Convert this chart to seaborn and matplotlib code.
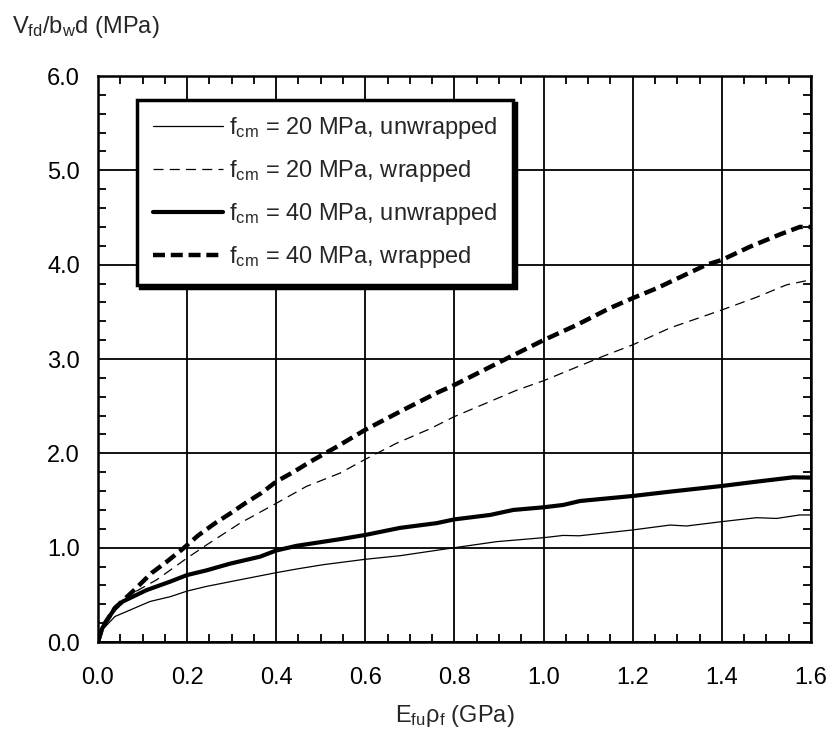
import numpy as np
import pandas as pd
import seaborn as sns
from matplotlib import pyplot as plt
from matplotlib.ticker import MultipleLocator

# Значения
x_20u = [0.0, 0.01, 0.038, 0.117, 0.162, 0.2, 0.244, 0.319, 0.4, 0.446, 0.506, 0.6, 0.678, 0.8,
         0.895, 1.0, 1.044, 1.08, 1.2, 1.284, 1.321, 1.4, 1.478, 1.523, 1.575, 1.6]
y_20u = [0.0, 0.13, 0.27, 0.43, 0.48, 0.54, 0.59, 0.66, 0.735, 0.774, 0.82, 0.877, 0.915, 1.0,
         1.064, 1.106, 1.13, 1.126, 1.188, 1.24, 1.23, 1.276, 1.318, 1.31, 1.347, 1.347]

x_20w = [0.0, 0.01, 0.038, 0.079, 0.132, 0.2, 0.244, 0.319, 0.4, 0.468, 0.543, 0.6, 0.67, 0.745,
         0.8, 0.88, 0.94, 1.0, 1.067, 1.134, 1.2, 1.284, 1.4, 1.478, 1.545, 1.6]
y_20w = [0.0, 0.15, 0.33, 0.52, 0.66, 0.89, 1.03, 1.26, 1.47, 1.65, 1.79, 1.937, 2.107, 2.26,
         2.39, 2.55, 2.67, 2.77, 2.90, 3.03, 3.15, 3.33, 3.52, 3.655, 3.786, 3.84]

x_40u = [0.0, 0.01, 0.038, 0.056, 0.109, 0.162, 0.2, 0.244, 0.296, 0.364, 0.4, 0.446, 0.543, 0.6,
         0.678, 0.76, 0.8, 0.88, 0.932, 1.0, 1.044, 1.082, 1.2, 1.284, 1.4, 1.478, 1.56, 1.6]
y_40u = [0.0, 0.15, 0.36, 0.43, 0.55, 0.64, 0.71, 0.76, 0.83, 0.905, 0.97, 1.02, 1.09, 1.135,
         1.21, 1.26, 1.30, 1.347, 1.40, 1.428, 1.453, 1.495, 1.548, 1.594, 1.654, 1.70, 1.746, 1.743]

x_40w = [0.0, 0.01, 0.038, 0.079, 0.12, 0.154, 0.191, 0.225, 0.263, 0.296, 0.33, 0.367, 0.4, 0.438,
         0.476, 0.536, 0.6, 0.685, 0.76, 0.8, 0.865, 0.932, 1.0, 1.074, 1.149, 1.2, 1.254, 1.321,
         1.366, 1.4, 1.463, 1.53, 1.575, 1.6]
y_40w = [0.0, 0.16, 0.36, 0.54, 0.73, 0.85, 0.99, 1.13, 1.26, 1.36, 1.47, 1.58, 1.70, 1.80,
         1.91, 2.07, 2.25, 2.46, 2.64, 2.725, 2.88, 3.04, 3.20, 3.36, 3.54, 3.645, 3.75, 3.90,
         4.0, 4.05, 4.19, 4.32, 4.40, 4.40]

labels = [r'f$_{\mathregular{cm}}$ = 20 MPa, unwrapped',
          r'f$_{\mathregular{cm}}$ = 20 MPa, wrapped',
          r'f$_{\mathregular{cm}}$ = 40 MPa, unwrapped',
          r'f$_{\mathregular{cm}}$ = 40 MPa, wrapped']

sns.set_style('white')
plt.rcParams['font.family'] = ['Liberation Sans', 'DejaVu Sans']
plt.rcParams['mathtext.fontset'] = 'custom'
plt.rcParams['mathtext.rm'] = 'Liberation Sans'
plt.rcParams['mathtext.it'] = 'Liberation Sans'

fig = plt.figure(figsize=(8.3, 7.36), dpi=100)
ax = fig.add_axes([0.118, 0.1277, 0.859, 0.769])

series = [
    (x_20u, y_20u, 0.9, '-'),
    (x_20w, y_20w, 0.9, (0, (8, 5))),
    (x_40u, y_40u, 3.0, '-'),
    (x_40w, y_40w, 3.2, (0, (2.7, 1.3))),
]
for (xs, ys, lw, ls), lab in zip(series, labels):
    sns.lineplot(x=xs, y=ys, ax=ax, color='black', lw=lw, linestyle=ls, label=lab,
                 estimator=None, sort=False, zorder=3)

ax.set_xlim(0, 1.6)
ax.set_ylim(0, 6)
ax.xaxis.set_major_locator(MultipleLocator(0.2))
ax.xaxis.set_minor_locator(MultipleLocator(0.05))
ax.yaxis.set_major_locator(MultipleLocator(1.0))
ax.yaxis.set_minor_locator(MultipleLocator(0.2))
ax.xaxis.set_major_formatter(lambda v, p: f'{v:.1f}')
ax.yaxis.set_major_formatter(lambda v, p: f'{v:.1f}')

ax.grid(True, which='major', color='black', lw=1.3)
for s in ax.spines.values():
    s.set_color('black')
    s.set_linewidth(1.8)
ax.tick_params(which='major', direction='in', length=0, labelsize=17, colors='black')
ax.tick_params(axis='x', which='major', pad=18)
ax.tick_params(axis='y', which='major', pad=13)
ax.tick_params(which='minor', direction='in', length=6, width=1.3, color='black',
               top=True, right=True, bottom=True, left=True)

ax.set_xlabel(r'E$_{\mathregular{fu}}$ρ$_{\mathregular{f}}$ (GPa)', fontsize=17, labelpad=10)
fig.text(0.0145, 0.963, r'V$_{\mathregular{fd}}$/b$_{\mathregular{w}}$d (MPa)',
         fontsize=17, ha='left', va='center')

leg = ax.legend(loc='upper left', bbox_to_anchor=(0.055, 0.958), borderaxespad=0,
                fontsize=17, frameon=True, fancybox=False, edgecolor='black', framealpha=1,
                handlelength=3.0, handletextpad=0.25, labelspacing=0.72, borderpad=0.65,
                shadow={'facecolor': 'black', 'edgecolor': 'black', 'alpha': 1})
leg.get_frame().set_linewidth(2.5)

fig.savefig('out.png', dpi=100)
